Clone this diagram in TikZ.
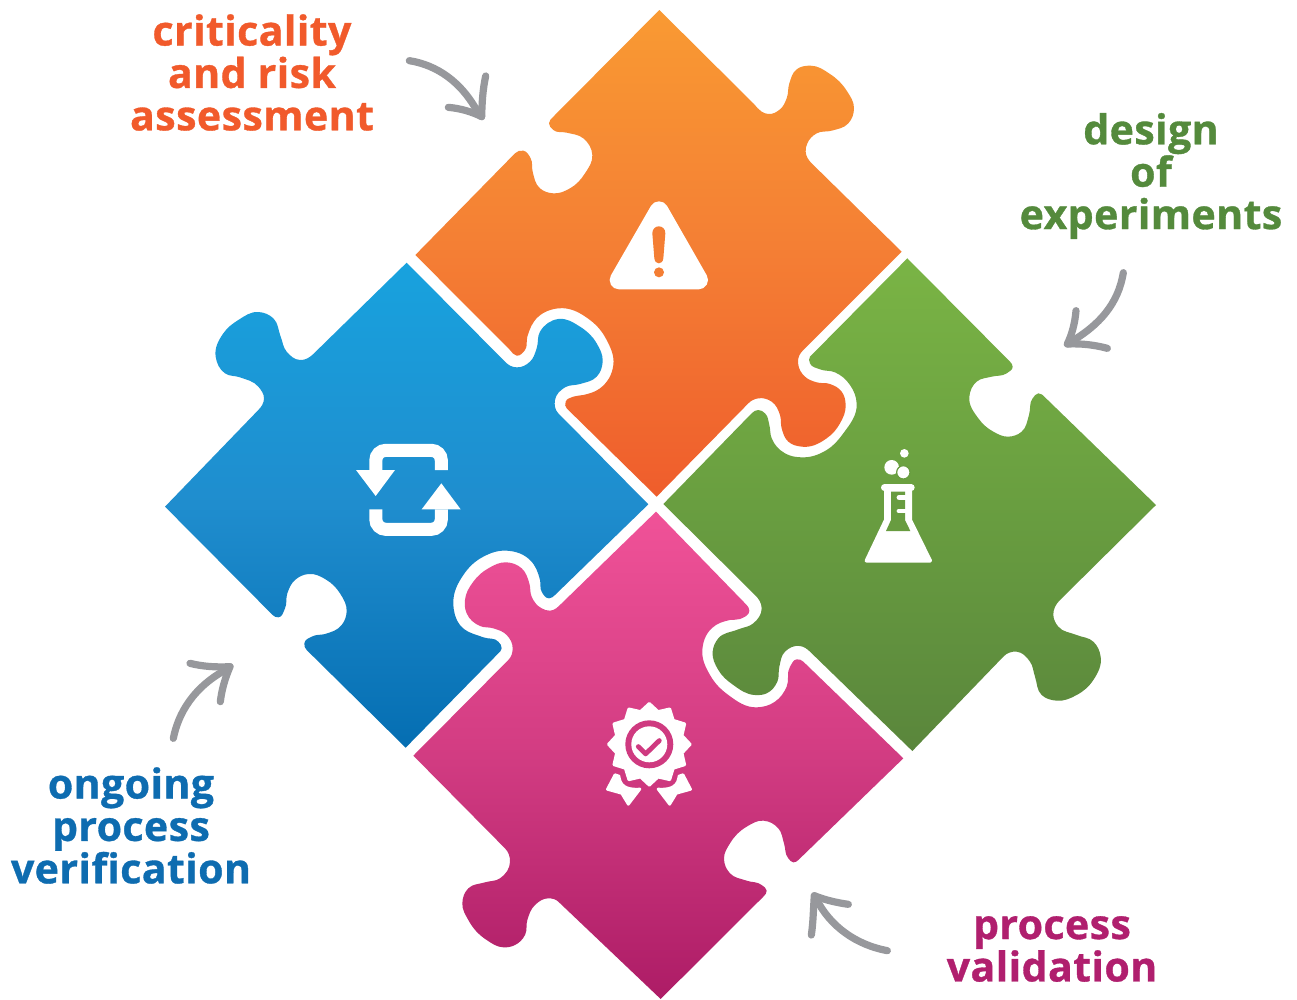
\documentclass[tikz,border=0pt]{standalone}
\usepackage{fontspec}
\setmainfont{Open Sans}[BoldFeatures={FakeBold=0.8,LetterSpace=1}]
\definecolor{gArrow}{HTML}{97989C}
\definecolor{tOrange}{HTML}{F15A2B}
\definecolor{tGreen}{HTML}{548A3C}
\definecolor{tPink}{HTML}{B01F6E}
\definecolor{tBlue}{HTML}{0E6CB0}
\definecolor{icOrange}{HTML}{F47E34}
\definecolor{icGreen}{HTML}{689C40}
\definecolor{icPink}{HTML}{CF3A80}
\definecolor{o1}{HTML}{F99A33}\definecolor{o2}{HTML}{EF5D2C}\definecolor{o3}{HTML}{F47E34}
\definecolor{b1}{HTML}{18A2DE}\definecolor{b2}{HTML}{056EB2}\definecolor{b3}{HTML}{1F8DCE}
\definecolor{g1}{HTML}{7AB445}\definecolor{g2}{HTML}{5A863C}\definecolor{g3}{HTML}{699E40}
\definecolor{p1}{HTML}{F05298}\definecolor{p2}{HTML}{AD1C66}\definecolor{p3}{HTML}{D23C82}
\tikzset{
  zm/.style={x=.25pt,y=-.25pt},
  pieceOrange/.style={shade,top color=o1,bottom color=o2,middle color=o3},
  pieceBlue/.style={shade,top color=b1,bottom color=b2,middle color=b3},
  pieceGreen/.style={shade,top color=g1,bottom color=g2,middle color=g3},
  piecePink/.style={shade,top color=p1,bottom color=p2,middle color=p3},
  grayArrow/.style={draw=gArrow,line width=5.4pt,line cap=round,line join=round},
  lbl/.style={font=\bfseries\fontsize{30.8}{31.8}\selectfont,align=center,inner sep=0pt},
}
% spline through points with chord-proportional handles; first and last points are the corners
\newcount\splN
\gdef\splpath{}
\newcommand\splreset{\gdef\splpath{}}
\newcommand\spl[1]{%
  \global\splN=0
  \foreach \px/\py in {#1}{%
    \global\advance\splN by 1
    \expandafter\xdef\csname sx\the\splN\endcsname{\px}%
    \expandafter\xdef\csname sy\the\splN\endcsname{\py}%
  }%
  \edef\splLast{\the\numexpr\splN-1\relax}%
  \foreach \i in {2,...,\splLast}{%
    \edef\ipr{\the\numexpr\i-1\relax}\edef\inx{\the\numexpr\i+1\relax}%
    \pgfmathsetmacro\sAx{\csname sx\i\endcsname-\csname sx\ipr\endcsname}%
    \pgfmathsetmacro\sAy{\csname sy\i\endcsname-\csname sy\ipr\endcsname}%
    \pgfmathsetmacro\sBx{\csname sx\inx\endcsname-\csname sx\i\endcsname}%
    \pgfmathsetmacro\sBy{\csname sy\inx\endcsname-\csname sy\i\endcsname}%
    \pgfmathsetmacro\sLa{veclen(\sAx,\sAy)}%
    \pgfmathsetmacro\sLb{veclen(\sBx,\sBy)}%
    \ifnum\i=2
      \pgfmathsetmacro\sTx{\sAx/\sLa}\pgfmathsetmacro\sTy{\sAy/\sLa}%
    \else\ifnum\i=\splLast
      \pgfmathsetmacro\sTx{\sBx/\sLb}\pgfmathsetmacro\sTy{\sBy/\sLb}%
    \else
      \pgfmathsetmacro\sWx{\sAx/\sLa*\sLb+\sBx/\sLb*\sLa}%
      \pgfmathsetmacro\sWy{\sAy/\sLa*\sLb+\sBy/\sLb*\sLa}%
      \pgfmathsetmacro\sLw{veclen(\sWx,\sWy)}%
      \pgfmathsetmacro\sTx{\sWx/\sLw}\pgfmathsetmacro\sTy{\sWy/\sLw}%
    \fi\fi
    \expandafter\xdef\csname tx\i\endcsname{\sTx}%
    \expandafter\xdef\csname ty\i\endcsname{\sTy}%
  }%
  \xdef\splpath{\splpath -- (\csname sx2\endcsname,\csname sy2\endcsname)}%
  \edef\splStop{\the\numexpr\splLast-1\relax}%
  \foreach \i in {2,...,\splStop}{%
    \edef\inx{\the\numexpr\i+1\relax}%
    \pgfmathsetmacro\sDx{\csname sx\inx\endcsname-\csname sx\i\endcsname}%
    \pgfmathsetmacro\sDy{\csname sy\inx\endcsname-\csname sy\i\endcsname}%
    \pgfmathsetmacro\sD{veclen(\sDx,\sDy)*.36}%
    \pgfmathsetmacro\cAx{\csname sx\i\endcsname+\csname tx\i\endcsname*\sD}%
    \pgfmathsetmacro\cAy{\csname sy\i\endcsname+\csname ty\i\endcsname*\sD}%
    \pgfmathsetmacro\cBx{\csname sx\inx\endcsname-\csname tx\inx\endcsname*\sD}%
    \pgfmathsetmacro\cBy{\csname sy\inx\endcsname-\csname ty\inx\endcsname*\sD}%
    \xdef\splpath{\splpath .. controls (\cAx,\cAy) and (\cBx,\cBy) .. (\csname sx\inx\endcsname,\csname sy\inx\endcsname)}%
  }%
  \xdef\splpath{\splpath -- (\csname sx\the\splN\endcsname,\csname sy\the\splN\endcsname)}%
}
\begin{document}
\begin{tikzpicture}[x=.75pt,y=-.75pt]
\useasboundingbox (0,0) rectangle (1297,1000);
\fill[white] (0,0) rectangle (1297,1000);

% orange piece
\begin{scope}[shift={(400,0)},zm]
\splreset
\spl{778/30,1062/312,1085/335,1105/342,1140/328,1160/295,1168/250,1190/208,1232/197,1290/222,1340/272,1362/325,1345/370,1295/392,1250/400,1222/430,1217/455,1235/490,1505/755}
\spl{1505/755,1215/1045,1195/1075,1195/1095,1215/1130,1250/1147,1290/1152,1325/1175,1337/1215,1320/1270,1280/1315,1205/1340,1165/1325,1145/1285,1140/1245,1115/1205,1075/1195,1045/1210,770/1490}
\spl{770/1490,500/1225,497/1205,520/1190,550/1185,600/1165,640/1095,620/1020,570/960,475/925,415/950,382/1010,375/1050,350/1067,330/1050,46/765}
\spl{46/765,345/460,370/452,392/475,398/515,420/565,460/580,510/565,555/520,577/465,550/415,500/398,460/390,447/370,460/350,778/30}
\path[pieceOrange] (778,30) \splpath -- cycle;
% warning icon
\filldraw[white,line width=14pt,line join=round] (777,632) -- (657,840) -- (896,840) -- cycle;
\fill[icOrange] (757,700) .. controls (757,672) and (796,672) .. (796,700) -- (790,775) .. controls (788,795) and (765,795) .. (763,775) -- cycle;
\fill[icOrange] (777,817) circle[radius=15];
% arrow
\coordinate (arAtail) at (28,182); \coordinate (arAtip) at (245,350);
\draw[grayArrow] (arAtail) .. controls (110,195) and (185,245) .. (235,340);
\draw[grayArrow] (257,228) .. controls (248,270) and (246,310) .. (arAtip);
\draw[grayArrow] (145,322) .. controls (180,325) and (215,335) .. (arAtip);
\end{scope}

% blue piece
\begin{scope}[shift={(150,250)},zm]
\splreset
\spl{770/38,1060/330,1080/347,1100/352,1140/335,1160/295,1170/245,1225/207,1290/230,1340/280,1358/335,1340/380,1290/402,1245/412,1215/450,1225/490,1495/763}
\spl{1495/763,1215/1035,1197/1045,1175/1025,1170/990,1140/930,1070/902,1000/920,940/975,910/1060,930/1125,1000/1162,1045/1175,1055/1195,1045/1210,767/1493}
\spl{767/1493,470/1200,463/1180,490/1158,525/1152,575/1125,590/1085,570/1030,530/990,475/972,435/990,412/1030,405/1075,385/1102,368/1095,45/770}
\spl{45/770,325/480,342/445,325/410,270/382,225/370,197/320,220/250,265/210,325/186,370/205,392/260,410/305,450/330,490/312,770/38}
\path[pieceBlue] (770,38) \splpath -- cycle;
% arrow
\coordinate (arCtail) at (70,1465); \coordinate (arCtip) at (240,1250);
\draw[grayArrow] (arCtail) .. controls (85,1390) and (130,1310) .. (235,1255);
\draw[grayArrow] (120,1240) .. controls (160,1250) and (200,1252) .. (arCtip);
\draw[grayArrow] (211,1355) .. controls (215,1320) and (225,1285) .. (arCtip);
\end{scope}

% recycle icon
\begin{scope}[shift={(340,430)},zm]
\draw[white,line width=9.75pt,rounded corners=7.5pt] (107.5,120) -- (107.5,61) -- (304,61) -- (304,120);
\fill[white] (48,120) -- (165,120) -- (107,198) -- cycle;
\draw[white,line width=9.75pt,rounded corners=7.5pt] (107.5,238) -- (107.5,298) -- (304,298) -- (304,238);
\fill[white] (245,238) -- (362,238) -- (304,160) -- cycle;
\end{scope}

% green piece
\begin{scope}[shift={(650,250)},zm]
\splreset
\spl{772/25,1080/335,1088/350,1070/370,1025/380,980/395,958/440,985/505,1030/545,1075/560,1115/545,1137/495,1148/445,1165/430,1185/442,1518/765}
\spl{1518/765,1230/1050,1210/1095,1225/1130,1280/1155,1330/1175,1352/1220,1330/1290,1280/1335,1220/1352,1175/1335,1155/1280,1140/1235,1100/1205,1060/1220,787/1503}
\spl{787/1503,480/1205,450/1188,405/1205,388/1250,382/1295,350/1330,315/1335,250/1305,205/1260,188/1205,205/1165,265/1138,310/1120,335/1075,315/1035,40/762}
\spl{40/762,305/490,325/480,345/490,358/525,365/565,405/610,455/622,530/600,580/550,620/460,600/405,555/367,510/358,480/340,480/320,772/25}
\path[pieceGreen] (772,25) \splpath -- cycle;
% arrow
\coordinate (arBtail) at (1420,68); \coordinate (arBtip) at (1252,282);
\draw[grayArrow] (arBtail) .. controls (1405,160) and (1350,225) .. (1258,278);
\draw[grayArrow] (1278,182) .. controls (1275,220) and (1265,255) .. (arBtip);
\draw[grayArrow] (1372,295) .. controls (1335,285) and (1295,280) .. (arBtip);
\end{scope}

% flask icon
\begin{scope}[shift={(850,440)},zm]
\fill[white] (163,40) circle[radius=13];
\fill[white] (125,82) circle[radius=22];
\filldraw[white,draw=icGreen,line width=.9pt] (160,97) circle[radius=20];
\filldraw[white,line width=3pt,line join=round] (108,150) -- (108,240) -- (50,362) -- (240,362) -- (180,240) -- (180,150) -- cycle;
\draw[white,line width=5pt,line cap=round] (103,143) -- (184,143);
\fill[icGreen] (123,155) -- (165,155) -- (165,240) -- (181,273) -- (108,273) -- (123,240) -- cycle;
\draw[white,line width=3.6pt,line cap=round] (147,172) -- (166,172);
\draw[white,line width=3.6pt,line cap=round] (147,213) -- (166,213);
\end{scope}

% pink piece
\begin{scope}[shift={(400,500)},zm]
\splreset
\spl{768/35,1040/315,1048/332,1020/357,990/360,935/385,907/450,930/525,985/585,1070/622,1125/605,1160/560,1170/500,1190/478,1210/485,1510/775}
\spl{1510/775,1195/1080,1180/1087,1165/1075,1152/1030,1135/985,1090/962,1040/980,990/1030,972/1075,990/1120,1040/1142,1085/1155,1100/1172,1090/1190,782/1497}
\spl{782/1497,475/1205,445/1195,405/1215,382/1260,375/1305,345/1335,310/1342,260/1320,205/1260,187/1210,205/1165,255/1147,300/1135,330/1085,315/1045,40/767}
\spl{40/767,325/480,338/445,320/405,280/385,240/378,200/340,195/300,220/245,265/205,320/187,365/205,388/250,395/290,425/325,450/332,485/310,768/35}
\path[piecePink] (768,35) \splpath -- cycle;
% arrow
\coordinate (arDtail) at (1462,1352); \coordinate (arDtip) at (1243,1187);
\draw[grayArrow] (arDtail) .. controls (1370,1335) and (1290,1280) .. (1248,1195);
\draw[grayArrow] (1345,1213) .. controls (1310,1208) and (1275,1200) .. (arDtip);
\draw[grayArrow] (1234,1305) .. controls (1240,1265) and (1240,1225) .. (arDtip);
\end{scope}

% badge icon
\begin{scope}[shift={(649.3,744.3)}]
\filldraw[white,line width=2pt,line join=round] (0:41) \foreach \a in {0,30,...,330} { -- (\a+15:34) -- (\a+30:41) } -- cycle;
\fill[icPink] (0,0) circle[radius=24];
\fill[white] (0,0) circle[radius=18];
\draw[icPink,line width=3.6pt,line cap=round,line join=round] (-11,2.3) -- (-3.7,9.6) -- (10,-3.7);
\end{scope}
\begin{scope}[shift={(590,690)},zm]
\filldraw[white,line width=2pt,line join=round] (52,298) -- (75,254) -- (87,258) .. controls (90,285) and (105,300) .. (150,297) -- (115,343) -- (95,310) -- cycle;
\filldraw[white,line width=2pt,line join=round] (302,298) -- (279,254) -- (267,258) .. controls (264,285) and (249,300) .. (204,297) -- (239,343) -- (259,310) -- cycle;
\end{scope}

% labels
\node[lbl,text=tOrange] (lblA) at (252,72.5) {criticality\\and risk\\assessment};
\node[lbl,text=tGreen] (lblB) at (1151,176) {design\\of\\experiments};
\node[lbl,text=tBlue] (lblC) at (131,825.5) {ongoing\\process\\verification};
\node[lbl,text=tPink] (lblD) at (1052,949) {process\\validation};
\end{tikzpicture}
\end{document}
